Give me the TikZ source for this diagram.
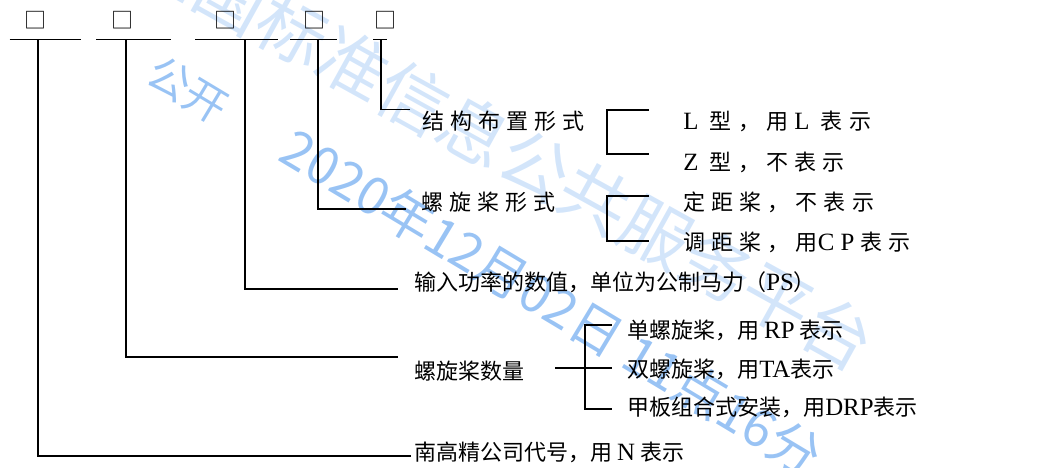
\documentclass[tikz,border=0pt]{standalone}
\usepackage{fontspec}
\setmainfont{Noto Sans CJK SC}
\newfontfamily\tn[Scale=1.13]{Liberation Serif}
\definecolor{wmblue}{RGB}{110,170,240}
\newcommand\ls{\hspace{4.6pt}}
\newcommand\wsp{\hspace{4pt}}
\tikzset{
  lead/.style={line width=1.3pt},
  lbl/.style={anchor=base west, inner sep=0pt, font=\fontsize{16.5pt}{18pt}\selectfont},
  sq/.style={inner sep=0pt, font=\fontsize{16.5pt}{18pt}\selectfont},
  wmbig/.style={text=wmblue, opacity=0.3, inner sep=0pt, font=\fontsize{52pt}{56pt}\selectfont},
  wmdate/.style={text=wmblue, opacity=0.7, inner sep=0pt, font=\fontsize{39pt}{42pt}\selectfont},
  wmsmall/.style={text=wmblue, opacity=0.7, inner sep=0pt, font=\fontsize{32pt}{34pt}\selectfont}
}
\begin{document}
\begin{tikzpicture}[x=0.75pt,y=-0.75pt]
\useasboundingbox (0,0) rectangle (1058,468);
\clip (0,0) rectangle (1058,468);
% watermark
\node[wmbig, rotate=-29] (wm1) at (505,148) {全国标准信息公共服务平台};
\node[wmsmall, rotate=-31] (wm2) at (188,90) {公开};
\node[wmdate, rotate=-31] (wm3) at (552,302) {2020年12月02日 11点16分};
% code boxes
\node[sq] (s1) at (35,20.5) {□};
\node[sq] (s2) at (122.5,20.5) {□};
\node[sq] (s3) at (225,20.5) {□};
\node[sq] (s4) at (314.5,20.5) {□};
\node[sq] (s5) at (385,20.5) {□};
% top bars
\coordinate (a1l) at (9.5,39.5);  \coordinate (a1r) at (81,39.5);
\coordinate (a2l) at (96,39.5);   \coordinate (a2r) at (171,39.5);
\coordinate (a3l) at (195,39.5);  \coordinate (a3r) at (278,39.5);
\coordinate (a4l) at (290,39.5);  \coordinate (a4r) at (337,39.5);
\coordinate (a5l) at (373,39.5);  \coordinate (a5r) at (387,39.5);
\draw[lead] (a1l) -- (a1r);
\draw[lead] (a2l) -- (a2r);
\draw[lead] (a3l) -- (a3r);
\draw[lead] (a4l) -- (a4r);
\draw[lead] (a5l) -- (a5r);
% labels
\node[lbl] (t1) at (422,129) {结\ls{}构\ls{}布\ls{}置\ls{}形\ls{}式};
\node[lbl] (t2) at (421,210) {螺\ls{}旋\ls{}桨\ls{}形\ls{}式};
\node[lbl] (t3) at (414,290) {输入功率的数值，单位为公制马力（{\tn PS}）};
\node[lbl] (t4) at (414,379) {螺旋桨数量};
\node[lbl] (t5) at (414,460) {南高精公司代号，用 {\tn N} 表示};
\node[lbl] (l1) at (683,129) {{\tn L}\ls\wsp{}型\ls{}，\ls{}用\ls{}{\tn L}\ls\wsp{}表\ls{}示};
\node[lbl] (l2) at (683,170.5) {{\tn Z}\ls\wsp{}型\ls{}，\ls{}不\ls{}表\ls{}示};
\node[lbl] (l3) at (683,210) {定\ls{}距\ls{}桨\ls{}，\ls{}不\ls{}表\ls{}示};
\node[lbl] (l4) at (683,250.5) {调\ls{}距\ls{}桨\ls{}，\ls{}用{\tn C}\ls{}{\tn P}\ls{}表\ls{}示};
\node[lbl] (m1) at (627,338) {单螺旋桨，用 {\tn RP} 表示};
\node[lbl] (m2) at (627,377) {双螺旋桨，用{\tn TA}表示};
\node[lbl] (m3) at (627,415.5) {甲板组合式安装，用{\tn DRP}表示};
% lead lines
\coordinate (v1) at (38,39.5);   \coordinate (e1) at (411,456);
\coordinate (v2) at (126,39.5);  \coordinate (e2) at (398,357);
\coordinate (v3) at (245,39.5);  \coordinate (e3) at (398,289);
\coordinate (v4) at (318,39.5);  \coordinate (e4) at (406,209);
\coordinate (v5) at (381,39.5);  \coordinate (e5) at (410,109.5);
\draw[lead] (v1) |- (e1);
\draw[lead] (v2) |- (e2);
\draw[lead] (v3) |- (e3);
\draw[lead] (v4) |- (e4);
\draw[lead] (v5) |- (e5);
% brackets
\coordinate (b1t) at (649,110); \coordinate (b1c) at (607,110); \coordinate (b1b) at (649,154.3);
\draw[lead] (b1t) -- (b1c) |- (b1b);
\coordinate (b2t) at (649,196); \coordinate (b2c) at (607,196); \coordinate (b2b) at (649,240.7);
\draw[lead] (b2t) -- (b2c) |- (b2b);
\coordinate (b3t) at (611.7,325); \coordinate (b3c) at (585,325); \coordinate (b3b) at (611.7,409);
\draw[lead] (b3t) -- (b3c) |- (b3b);
\coordinate (b3l) at (555,367.7); \coordinate (b3m) at (611.7,367.7);
\draw[lead] (b3l) -- (b3m);
\end{tikzpicture}
\end{document}
